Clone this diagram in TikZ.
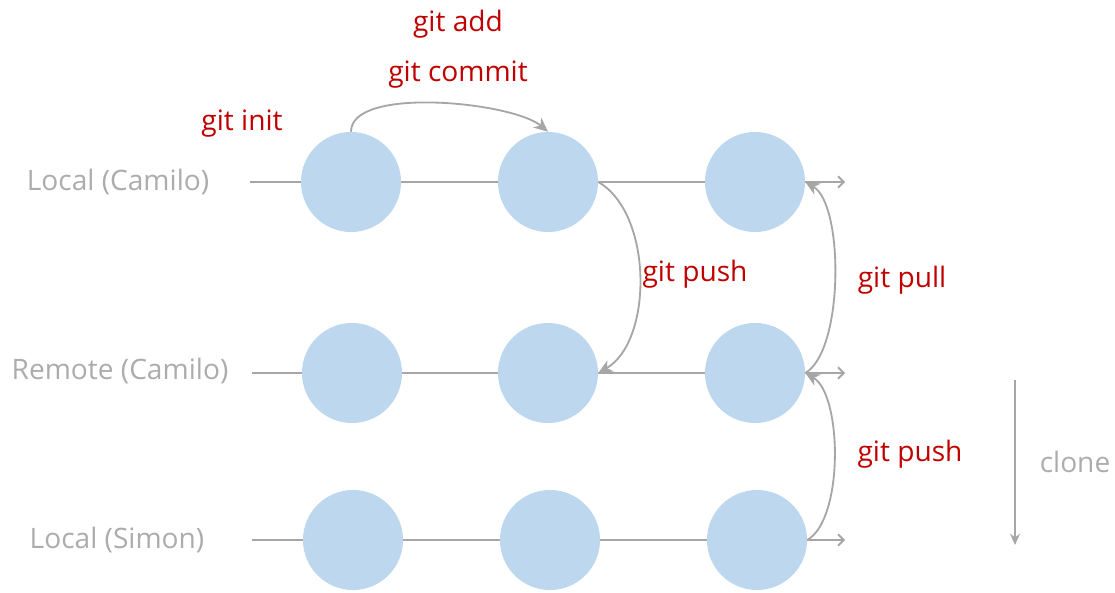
\documentclass[tikz,border=0pt]{standalone}
\usepackage{fontspec}
\setmainfont{Open Sans}
\usepackage{tikz}
\usetikzlibrary{positioning}
\usetikzlibrary{arrows.meta}
\definecolor{linegray}{RGB}{166,166,166}
\definecolor{labelgray}{RGB}{172,172,172}
\definecolor{cmdred}{RGB}{192,0,0}
\definecolor{commitblue}{RGB}{189,215,238}
\tikzset{
  commit/.style={circle,fill=commitblue,minimum size=2.5cm,inner sep=0pt},
  timeline/.style={draw=linegray,line width=1.3pt,-{Straight Barb[length=4pt,width=8pt]}},
  flow/.style={draw=linegray,line width=1.3pt,-{Stealth[length=10pt,width=9pt,inset=3pt]}},
  cmd/.style={text=cmdred,font=\fontsize{20}{24}\selectfont},
  rowlabel/.style={text=labelgray,font=\fontsize{20}{24}\selectfont},
}

\begin{document}
\begin{tikzpicture}[x=0.025cm,y=0.025cm]
            \useasboundingbox (0,0) rectangle (1115,592);
            % Timelines (drawn first, behind the commits)
            \coordinate (lcstart) at (250,410);
            \coordinate (lcend) at (845,410);
            \coordinate (rcstart) at (252,219);
            \coordinate (rcend) at (845,219);
            \coordinate (lsstart) at (252,52);
            \coordinate (lsend) at (845,52);
            \draw[timeline] (lcstart) -- (lcend);
            \draw[timeline] (rcstart) -- (rcend);
            \draw[timeline] (lsstart) -- (lsend);
            % Commits
            \node[commit] (lc1) at (351,410) {};
            \node[commit] (lc2) at (548,410) {};
            \node[commit] (lc3) at (755,410) {};
            \node[commit] (rc1) at (352,219) {};
            \node[commit] (rc2) at (548,219) {};
            \node[commit] (rc3) at (755,219) {};
            \node[commit] (ls1) at (353,52) {};
            \node[commit] (ls2) at (550,52) {};
            \node[commit] (ls3) at (757,52) {};
            % Row labels
            \node[rowlabel] (lclabel) at (118,410) {Local (Camilo)};
            \node[rowlabel] (rclabel) at (120,221) {Remote (Camilo)};
            \node[rowlabel] (lslabel) at (117,52) {Local (Simon)};
            % Commands
            \node[cmd] (addlabel) at (458,568) {git add};
            \node[cmd] (commitlabel) at (458,517) {git commit};
            \node[cmd] (initlabel) at (242,468) {git init};
            \node[cmd] (pushlabel) at (695,318) {git push};
            \node[cmd] (pulllabel) at (902,312) {git pull};
            \node[cmd] (pushlabelb) at (910,138) {git push};
            \draw[flow] (lc1.north) to[out=90,in=140,looseness=0.6] (lc2.north);
            \draw[flow] (lc2.east) to[out=-30,in=30,looseness=0.85] (rc2.east);
            \draw[flow] (rc3.east) to[out=30,in=-30,looseness=0.6] (lc3.east);
            \draw[flow] (ls3.east) to[out=30,in=-30,looseness=0.65] (rc3.east);
            % Clone
            \coordinate (clonetop) at (1015,212);
            \coordinate (clonebot) at (1015,47);
            \draw[draw=linegray,line width=1.3pt,-{Stealth[length=8pt,width=7pt]}] (clonetop) -- (clonebot);
            \node[rowlabel] (clonelabel) at (1075,130) {clone};
\end{tikzpicture}
\end{document}
